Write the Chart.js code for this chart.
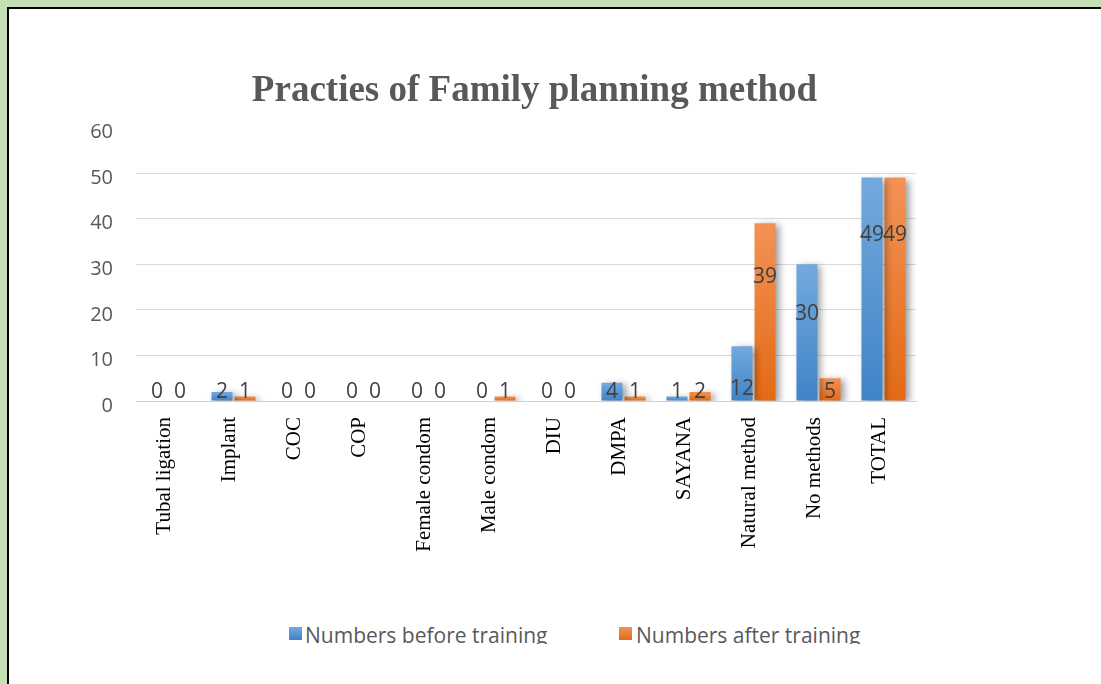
<!DOCTYPE html>
<html>
<head>
<meta charset="utf-8">
<script src="https://cdn.jsdelivr.net/npm/chart.js@4.4.1/dist/chart.umd.min.js"></script>
<style>
  html, body { margin: 0; padding: 0; }
  body { width: 1101px; height: 684px; background: #c5e0b4; position: relative; overflow: hidden; }
  #panel { position: absolute; left: 7px; top: 7px; width: 1200px; height: 800px; background: #fff;
           border-left: 2px solid #000; border-top: 2px solid #000; }
  #clip { position: absolute; left: 0; top: 0; width: 1101px; height: 644px; overflow: hidden; }
  #chart { position: absolute; left: 9px; top: 9px; }
  .lg-box { position: absolute; width: 13px; height: 13px; top: 627px; }
  .lg-txt { position: absolute; top: 625px; font-family: "Open Sans", sans-serif; font-size: 21px; line-height: 1; color: #595959; white-space: nowrap; }
</style>
</head>
<body>
<div id="panel"></div>
<div id="clip">
  <canvas id="chart" width="1092" height="560"></canvas>
  <div id="legend"></div>
</div>
<script>
const categories = ["Tubal ligation", "Implant", "COC", "COP", "Female condom", "Male condom", "DIU", "DMPA", "SAYANA", "Natural method", "No methods", "TOTAL"];
const beforeValues = [0, 2, 0, 0, 0, 0, 0, 4, 1, 12, 30, 49];
const afterValues  = [0, 1, 0, 0, 0, 1, 0, 1, 2, 39, 5, 49];
const seriesNames = ["Numbers before training", "Numbers after training"];
const yTicks = [0, 10, 20, 30, 40, 50, 60];
const chartTitle = "Practies of Family planning method";

const palette = [
  { top: "#74a9de", bottom: "#3f84c7", flat: "#5b9bd5" },
  { top: "#f39256", bottom: "#e36a15", flat: "#ed7d31" }
];

function gradientFill(idx) {
  return function (ctx) {
    const chart = ctx.chart;
    const area = chart.chartArea;
    if (!area || ctx.raw === undefined) return palette[idx].flat;
    const y = chart.scales.y;
    const top = y.getPixelForValue(ctx.raw);
    const bottom = y.getPixelForValue(0);
    if (bottom - top < 1) return palette[idx].flat;
    const g = chart.ctx.createLinearGradient(0, top, 0, bottom);
    g.addColorStop(0, palette[idx].top);
    g.addColorStop(1, palette[idx].bottom);
    return g;
  };
}

const shadowPlugin = {
  id: "barShadow",
  beforeDatasetsDraw(chart) {
    const c = chart.ctx;
    c.save();
    c.shadowColor = "rgba(0,0,0,0.38)";
    c.shadowBlur = 7;
    c.shadowOffsetX = 4;
    c.shadowOffsetY = 2;
  },
  afterDatasetsDraw(chart) {
    chart.ctx.restore();
  }
};

const valueLabelPlugin = {
  id: "valueLabels",
  afterDraw(chart) {
    const c = chart.ctx;
    const y = chart.scales.y;
    c.save();
    c.font = '21px "Open Sans", sans-serif';
    c.fillStyle = "#404040";
    c.textAlign = "center";
    c.textBaseline = "middle";
    chart.data.datasets.forEach((ds, di) => {
      const meta = chart.getDatasetMeta(di);
      meta.data.forEach((el, i) => {
        const v = ds.data[i];
        const labelVal = Math.max(v * 0.91 - 8.2, 2.0);
        c.fillText(String(v), el.x, y.getPixelForValue(labelVal));
      });
    });
    c.restore();
  }
};

new Chart(document.getElementById("chart"), {
  type: "bar",
  data: {
    labels: categories,
    datasets: [
      { label: seriesNames[0], data: beforeValues, backgroundColor: gradientFill(0), borderWidth: 0,
        categoryPercentage: 0.71, barPercentage: 0.91 },
      { label: seriesNames[1], data: afterValues, backgroundColor: gradientFill(1), borderWidth: 0,
        categoryPercentage: 0.71, barPercentage: 0.91 }
    ]
  },
  options: {
    responsive: false,
    animation: false,
    layout: { padding: { left: 0, right: 41, top: 0, bottom: 8 } },
    plugins: {
      legend: { display: false },
      tooltip: { enabled: false },
      title: {
        display: true,
        text: chartTitle,
        color: "#595959",
        font: { family: '"Liberation Serif", "Times New Roman", serif', size: 37, weight: "bold", lineHeight: 1.2 },
        padding: { top: 60, bottom: 14.0 }
      }
    },
    scales: {
      x: {
        grid: { display: false, drawTicks: false },
        border: { display: true, color: "#d0d0d0", width: 1 },
        ticks: {
          autoSkip: false, minRotation: 90, maxRotation: 90, padding: 16, labelOffset: -4,
          color: "#000000",
          font: { family: '"Liberation Serif", "Times New Roman", serif', size: 21 }
        },
        afterFit(s) { s.height = 160; }
      },
      y: {
        min: 0, max: 60,
        afterBuildTicks(s) { s.ticks = yTicks.map(v => ({ value: v })); },
        grid: {
          drawTicks: false,
          color: (ctx) => (ctx.tick && ctx.tick.value === 60 ? "rgba(0,0,0,0)" : (ctx.tick && ctx.tick.value === 0 ? "#cfcfcf" : "#d9d9d9")),
          lineWidth: 1
        },
        border: { display: false },
        ticks: {
          padding: 23, labelOffset: 5, color: "#595959",
          font: { family: '"Open Sans", sans-serif', size: 20 }
        },
        afterFit(s) { s.width = 127; }
      },
      y2: {
        position: "right",
        display: true,
        grid: { display: false, drawTicks: false },
        border: { display: false },
        ticks: { display: false },
        afterFit(s) { s.width = 144; }
      }
    }
  },
  plugins: [shadowPlugin, valueLabelPlugin]
});

// legend built from the series names
const legendPos = [{ box: 289, text: 305 }, { box: 619, text: 636 }];
const lg = document.getElementById("legend");
seriesNames.forEach((name, i) => {
  const b = document.createElement("div");
  b.className = "lg-box";
  b.style.left = legendPos[i].box + "px";
  b.style.background = "linear-gradient(" + palette[i].top + "," + palette[i].bottom + ")";
  lg.appendChild(b);
  const t = document.createElement("div");
  t.className = "lg-txt";
  t.style.left = legendPos[i].text + "px";
  t.textContent = name;
  lg.appendChild(t);
});
</script>
</body>
</html>
